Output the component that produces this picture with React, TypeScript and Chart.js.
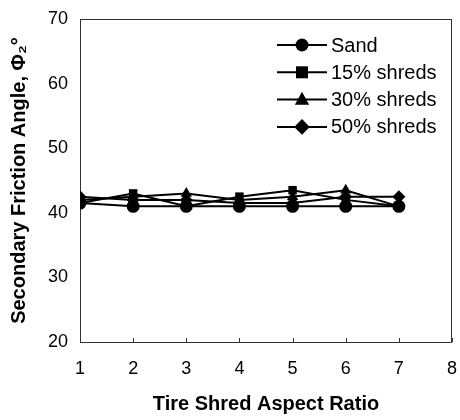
import React, { useEffect, useRef } from "react";
import { Chart, registerables } from "chart.js";

Chart.register(...registerables);

const aspectRatios = [1, 2, 3, 4, 5, 6, 7];
const sandValues = [41.5, 41, 41, 41, 41, 41, 41];
const shreds15Values = [41.5, 43, 41, 42.5, 43.5, 42, 41];
const shreds30Values = [42, 42.5, 43, 42, 42.5, 43.5, 41];
const shreds50Values = [42.5, 42, 42, 41.5, 41.5, 42.5, 42.5];
const seriesNames = ["Sand", "15% shreds", "30% shreds", "50% shreds"];
const seriesMarkers = ["circle", "rect", "triangle", "rectRot"];
const xTicks = [1, 2, 3, 4, 5, 6, 7, 8];
const yTicks = [20, 30, 40, 50, 60, 70];

const FONT = "'Liberation Sans', Arial, Helvetica, sans-serif";

const toPoints = (vals: number[]) => vals.map((v, i) => ({ x: aspectRatios[i], y: v }));

const framePlugin = {
  id: "frame",
  beforeDatasetsDraw(chart: any) {
    const { ctx, chartArea } = chart;
    const { left, right, top, bottom } = chartArea;
    ctx.save();
    ctx.strokeStyle = "#333";
    ctx.lineWidth = 1;
    ctx.strokeRect(left + 0.5, top + 0.5, right - left - 1, bottom - top);
    const xs = chart.scales.x;
    ctx.beginPath();
    xTicks.forEach((t) => {
      const px = Math.round(xs.getPixelForValue(t)) + 0.5;
      ctx.moveTo(px, bottom);
      ctx.lineTo(px, bottom - 4);
    });
    ctx.stroke();
    ctx.restore();
  },
};

const legendPlugin = {
  id: "customLegend",
  afterDraw(chart: any) {
    const { ctx, chartArea } = chart;
    const x0 = chartArea.right - 175;
    const x1 = x0 + 50;
    const xm = (x0 + x1) / 2;
    ctx.save();
    chart.data.datasets.forEach((ds: any, i: number) => {
      const y = chartArea.top + 26 + i * 27.3;
      ctx.strokeStyle = "#000";
      ctx.lineWidth = 2;
      ctx.beginPath();
      ctx.moveTo(x0, y);
      ctx.lineTo(x1, y);
      ctx.stroke();
      ctx.fillStyle = "#000";
      const r = ds.pointRadius;
      const style = ds.pointStyle;
      ctx.beginPath();
      if (style === "circle") {
        ctx.arc(xm, y, r, 0, Math.PI * 2);
      } else if (style === "rect") {
        ctx.rect(xm - r, y - r, 2 * r, 2 * r);
      } else if (style === "triangle") {
        ctx.moveTo(xm, y - r * 1.2);
        ctx.lineTo(xm + r * 1.1, y + r * 0.8);
        ctx.lineTo(xm - r * 1.1, y + r * 0.8);
        ctx.closePath();
      } else {
        const d = r * 1.2;
        ctx.moveTo(xm, y - d);
        ctx.lineTo(xm + d, y);
        ctx.lineTo(xm, y + d);
        ctx.lineTo(xm - d, y);
        ctx.closePath();
      }
      ctx.fill();
      ctx.font = `20px ${FONT}`;
      ctx.textBaseline = "middle";
      ctx.textAlign = "left";
      ctx.fillText(ds.label, x1 + 4, y + 1);
    });
    ctx.restore();
  },
};

export default function App() {
  const canvasRef = useRef<HTMLCanvasElement | null>(null);

  useEffect(() => {
    const canvas = canvasRef.current;
    if (!canvas) return;
    const values = [sandValues, shreds15Values, shreds30Values, shreds50Values];
    const radii = [6.5, 6, 6.5, 6.5];
    const chart = new Chart(canvas, {
      type: "line",
      data: {
        datasets: values.map((v, i) => ({
          label: seriesNames[i],
          data: toPoints(v),
          borderColor: "#000",
          backgroundColor: "#000",
          borderWidth: 2,
          pointStyle: seriesMarkers[i] as any,
          pointRadius: radii[i],
          pointBackgroundColor: "#000",
          pointBorderColor: "#000",
          pointBorderWidth: 0,
          tension: 0,
        })),
      },
      options: {
        animation: false,
        responsive: false,
        maintainAspectRatio: false,
        layout: { padding: { left: 0, right: 8, top: 19, bottom: 0 } },
        plugins: {
          legend: { display: false },
          tooltip: { enabled: false },
        },
        scales: {
          x: {
            type: "linear",
            min: 1,
            max: 8,
            afterFit: (s: any) => {
              s.height = 78;
              s.paddingLeft = 0;
              s.paddingRight = 0;
            },
            afterBuildTicks: (s: any) => {
              s.ticks = xTicks.map((v) => ({ value: v }));
            },
            grid: { display: false, drawTicks: false },
            border: { display: false },
            ticks: {
              color: "#000",
              padding: 16,
              font: { family: FONT, size: 18 },
            },
            title: {
              display: true,
              text: "Tire Shred Aspect Ratio",
              color: "#000",
              font: { family: FONT, size: 20, weight: "bold" },
              padding: { top: 0, bottom: 4 },
            },
          },
          y: {
            type: "linear",
            min: 20,
            max: 70,
            afterFit: (s: any) => {
              s.width = 80;
              s.paddingTop = 0;
              s.paddingBottom = 0;
            },
            afterBuildTicks: (s: any) => {
              s.ticks = yTicks.map((v) => ({ value: v }));
            },
            grid: { display: false, drawTicks: false },
            border: { display: false },
            ticks: {
              color: "#000",
              padding: 12,
              font: { family: FONT, size: 18 },
            },
            title: {
              display: true,
              text: "Secondary Friction Angle, Φ₂°",
              color: "#000",
              font: { family: FONT, size: 20, weight: "bold" },
              padding: { top: 7, bottom: 0 },
            },
          },
        },
      },
      plugins: [framePlugin, legendPlugin],
    });
    return () => chart.destroy();
  }, []);

  return (
    <div style={{ position: "fixed", left: 0, top: 0, width: 460, height: 420, background: "#fff" }}>
      <canvas ref={canvasRef} width={460} height={420} style={{ width: 460, height: 420, display: "block" }} />
    </div>
  );
}
